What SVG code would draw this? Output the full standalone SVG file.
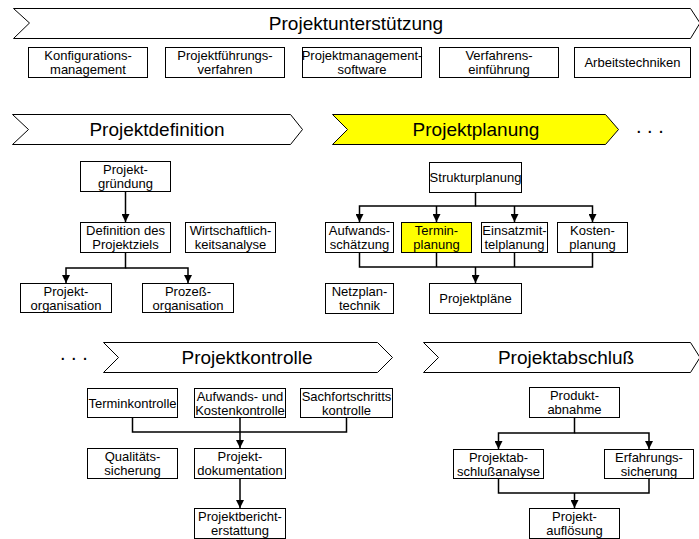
<svg xmlns="http://www.w3.org/2000/svg" width="699" height="539" viewBox="0 0 699 539">
<defs>
<style>
.bg{fill:#fff}
.box{fill:#fff;stroke:#000;stroke-width:1}
.hl{fill:#ffff00;stroke:#000;stroke-width:1}
.ban{fill:#fff;stroke:#000;stroke-width:1}
.banhl{fill:#ffff00;stroke:#000;stroke-width:1}
.t{font-family:"Liberation Sans",Arial,sans-serif;font-size:13px;fill:#000;text-anchor:middle}
.bt{font-family:"Liberation Sans",Arial,sans-serif;font-size:19px;fill:#000;text-anchor:middle}
.dots{font-family:"Liberation Sans",Arial,sans-serif;font-size:20px;fill:#000}
.c{fill:none;stroke:#000;stroke-width:1.5}
</style>
<marker id="ah" markerWidth="8" markerHeight="8" refX="8" refY="4" orient="auto" markerUnits="userSpaceOnUse">
<path d="M0,0 L8,4 L0,8 Z" fill="#000"/>
</marker>
</defs>
<rect class="bg" x="0" y="0" width="699" height="539"/>

<!-- Banners -->
<g id="banner-unterstuetzung">
<polygon class="ban" points="13.5,8.5 690.5,8.5 700,23 690.5,38.5 13.5,38.5 29.5,23"/>
<text class="bt" x="356" y="30">Projektunterstützung</text>
</g>
<g id="banner-definition">
<polygon class="ban" points="12.5,114.5 290.5,114.5 302.5,129.5 290.5,144.5 12.5,144.5 28.5,129.5"/>
<text class="bt" x="157" y="136">Projektdefinition</text>
</g>
<g id="banner-planung">
<polygon class="banhl" points="332.5,114.5 605.5,114.5 618.5,129.5 605.5,144.5 332.5,144.5 347.5,129.5"/>
<text class="bt" x="476" y="136">Projektplanung</text>
</g>
<text class="dots" x="636" y="133">. . .</text>
<g id="banner-kontrolle">
<polygon class="ban" points="103.5,342.5 377.5,342.5 392.5,357.5 377.5,372.5 103.5,372.5 118.5,357.5"/>
<text class="bt" x="247" y="364">Projektkontrolle</text>
</g>
<text class="dots" x="60" y="360">. . .</text>
<g id="banner-abschluss">
<polygon class="ban" points="423.5,342.5 690.5,342.5 700,357.5 690.5,372.5 423.5,372.5 438.5,357.5"/>
<text class="bt" x="566" y="364">Projektabschluß</text>
</g>

<!-- Top row -->
<g id="n-konfig"><rect class="box" x="28.5" y="47.5" width="119" height="30"/>
<text class="t" x="88" y="60"><tspan x="88">Konfigurations-</tspan><tspan x="88" dy="13.5">management</tspan></text></g>
<g id="n-fuehrung"><rect class="box" x="165.5" y="47.5" width="119" height="30"/>
<text class="t" x="225" y="60"><tspan x="225">Projektführungs-</tspan><tspan x="225" dy="13.5">verfahren</tspan></text></g>
<g id="n-software"><rect class="box" x="302.5" y="47.5" width="119" height="30"/>
<text class="t" x="362" y="60"><tspan x="362">Projektmanagement-</tspan><tspan x="362" dy="13.5">software</tspan></text></g>
<g id="n-verfahren"><rect class="box" x="439.5" y="47.5" width="119" height="30"/>
<text class="t" x="499" y="60"><tspan x="499">Verfahrens-</tspan><tspan x="499" dy="13.5">einführung</tspan></text></g>
<g id="n-arbeit"><rect class="box" x="574.5" y="47.5" width="116" height="30"/>
<text class="t" x="632.5" y="67">Arbeitstechniken</text></g>

<!-- Projektdefinition -->
<g id="n-gruendung"><rect class="box" x="80.5" y="161.5" width="90" height="30"/>
<text class="t" x="125.5" y="174"><tspan x="125.5">Projekt-</tspan><tspan x="125.5" dy="13.5">gründung</tspan></text></g>
<g id="n-ziel"><rect class="box" x="80.5" y="222.5" width="90" height="30"/>
<text class="t" x="125.5" y="235"><tspan x="125.5">Definition des</tspan><tspan x="125.5" dy="13.5">Projektziels</tspan></text></g>
<g id="n-wirtschaft"><rect class="box" x="185.5" y="222.5" width="90" height="30"/>
<text class="t" x="230.5" y="235"><tspan x="230.5">Wirtschaftlich-</tspan><tspan x="230.5" dy="13.5">keitsanalyse</tspan></text></g>
<g id="n-porg"><rect class="box" x="20.5" y="283.5" width="91" height="29"/>
<text class="t" x="66" y="296"><tspan x="66">Projekt-</tspan><tspan x="66" dy="13.5">organisation</tspan></text></g>
<g id="n-prozess"><rect class="box" x="142.5" y="283.5" width="91" height="29"/>
<text class="t" x="188" y="296"><tspan x="188">Prozeß-</tspan><tspan x="188" dy="13.5">organisation</tspan></text></g>

<!-- Projektplanung -->
<g id="n-struktur"><rect class="box" x="429.5" y="162.5" width="92" height="30"/>
<text class="t" x="475.5" y="182">Strukturplanung</text></g>
<g id="n-aufwand"><rect class="box" x="325.5" y="222.5" width="68" height="30"/>
<text class="t" x="359.5" y="235"><tspan x="359.5">Aufwands-</tspan><tspan x="359.5" dy="13.5">schätzung</tspan></text></g>
<g id="n-termin"><rect class="hl" x="401.5" y="222.5" width="70" height="30"/>
<text class="t" x="436.5" y="235"><tspan x="436.5">Termin-</tspan><tspan x="436.5" dy="13.5">planung</tspan></text></g>
<g id="n-einsatz"><rect class="box" x="481.5" y="222.5" width="66" height="30"/>
<text class="t" x="514.5" y="235"><tspan x="514.5">Einsatzmit-</tspan><tspan x="514.5" dy="13.5">telplanung</tspan></text></g>
<g id="n-kosten"><rect class="box" x="557.5" y="222.5" width="70" height="30"/>
<text class="t" x="592.5" y="235"><tspan x="592.5">Kosten-</tspan><tspan x="592.5" dy="13.5">planung</tspan></text></g>
<g id="n-netzplan"><rect class="box" x="325.5" y="283.5" width="68" height="30"/>
<text class="t" x="359.5" y="296"><tspan x="359.5">Netzplan-</tspan><tspan x="359.5" dy="13.5">technik</tspan></text></g>
<g id="n-plaene"><rect class="box" x="429.5" y="283.5" width="92" height="30"/>
<text class="t" x="475.5" y="303">Projektpläne</text></g>

<!-- Projektkontrolle -->
<g id="n-tkontrolle"><rect class="box" x="87.5" y="388.5" width="90" height="29"/>
<text class="t" x="132.5" y="407.5">Terminkontrolle</text></g>
<g id="n-akontrolle"><rect class="box" x="194.5" y="388.5" width="91" height="29"/>
<text class="t" x="240" y="401"><tspan x="240">Aufwands- und</tspan><tspan x="240" dy="13.5">Kostenkontrolle</tspan></text></g>
<g id="n-skontrolle"><rect class="box" x="300.5" y="388.5" width="92" height="29"/>
<text class="t" x="346.5" y="401"><tspan x="346.5">Sachfortschritts</tspan><tspan x="346.5" dy="13.5">kontrolle</tspan></text></g>
<g id="n-qualitaet"><rect class="box" x="87.5" y="448.5" width="90" height="30"/>
<text class="t" x="132.5" y="461"><tspan x="132.5">Qualitäts-</tspan><tspan x="132.5" dy="13.5">sicherung</tspan></text></g>
<g id="n-doku"><rect class="box" x="194.5" y="448.5" width="91" height="30"/>
<text class="t" x="240" y="461"><tspan x="240">Projekt-</tspan><tspan x="240" dy="13.5">dokumentation</tspan></text></g>
<g id="n-bericht"><rect class="box" x="194.5" y="508.5" width="91" height="30"/>
<text class="t" x="240" y="521"><tspan x="240">Projektbericht-</tspan><tspan x="240" dy="13.5">erstattung</tspan></text></g>

<!-- Projektabschluss -->
<g id="n-abnahme"><rect class="box" x="529.5" y="387.5" width="90" height="30"/>
<text class="t" x="574.5" y="400"><tspan x="574.5">Produkt-</tspan><tspan x="574.5" dy="13.5">abnahme</tspan></text></g>
<g id="n-analyse"><rect class="box" x="453.5" y="449.5" width="90" height="29"/>
<text class="t" x="498.5" y="462"><tspan x="498.5">Projektab-</tspan><tspan x="498.5" dy="13.5">schlußanalyse</tspan></text></g>
<g id="n-erfahrung"><rect class="box" x="604.5" y="449.5" width="89" height="29"/>
<text class="t" x="649" y="462"><tspan x="649">Erfahrungs-</tspan><tspan x="649" dy="13.5">sicherung</tspan></text></g>
<g id="n-aufloesung"><rect class="box" x="529.5" y="508.5" width="90" height="30"/>
<text class="t" x="574.5" y="521"><tspan x="574.5">Projekt-</tspan><tspan x="574.5" dy="13.5">auflösung</tspan></text></g>

<!-- Connectors -->
<g id="connectors">
<path class="c" d="M125.5,192 V222" marker-end="url(#ah)"/>
<path class="c" d="M125.5,253 V268 H66 V283" marker-end="url(#ah)"/>
<path class="c" d="M125.5,268 H188 V283" marker-end="url(#ah)"/>

<path class="c" d="M475.5,193 V206 H359.5 V222" marker-end="url(#ah)"/>
<path class="c" d="M475.5,206 H592.5 V222" marker-end="url(#ah)"/>
<path class="c" d="M436.5,206 V222" marker-end="url(#ah)"/>
<path class="c" d="M514.5,206 V222" marker-end="url(#ah)"/>
<path class="c" d="M359.5,253 V267 H592.5 V253"/>
<path class="c" d="M436.5,253 V267"/>
<path class="c" d="M514.5,253 V267"/>
<path class="c" d="M475.5,267 V283" marker-end="url(#ah)"/>

<path class="c" d="M132.5,418 V432 H346.5 V418"/>
<path class="c" d="M240,418 V448" marker-end="url(#ah)"/>
<path class="c" d="M240,479 V508" marker-end="url(#ah)"/>

<path class="c" d="M574.5,418 V433 H498.5 V449" marker-end="url(#ah)"/>
<path class="c" d="M574.5,433 H649 V449" marker-end="url(#ah)"/>
<path class="c" d="M498.5,479 V493 H649 V479"/>
<path class="c" d="M574.5,493 V508" marker-end="url(#ah)"/>
</g>
</svg>
